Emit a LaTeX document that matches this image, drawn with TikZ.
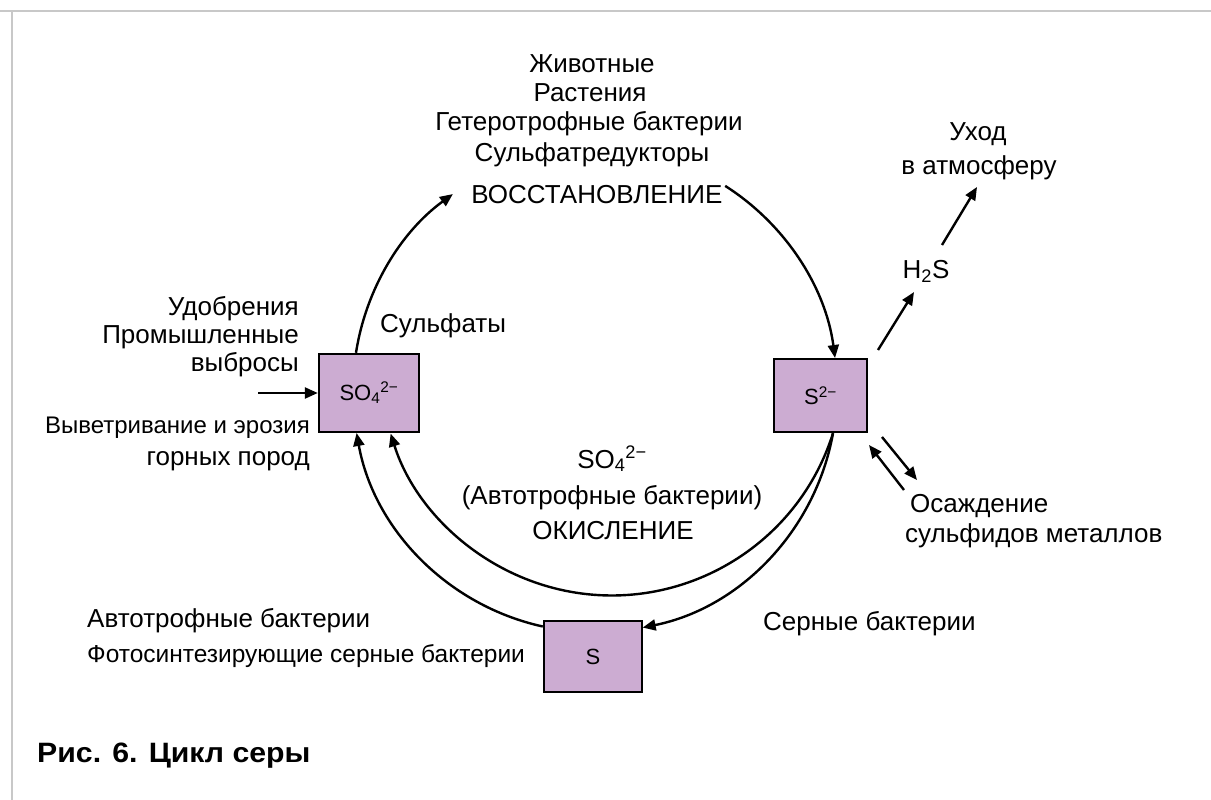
\documentclass[tikz,border=0pt]{standalone}
\usepackage{fontspec}
\setmainfont{Liberation Sans}
\usetikzlibrary{arrows.meta}
\definecolor{boxfill}{RGB}{204,172,210}
\definecolor{framegray}{RGB}{200,200,200}

\begin{document}
\begin{tikzpicture}[x=1pt,y=1pt,
  arr/.style={line width=2.4pt, -{Triangle[length=13pt,width=11pt]}},
  pool/.style={draw=black, line width=2.4pt, fill=boxfill, inner sep=0pt,
    font=\fontsize{22}{26}\selectfont},
  lbl/.style={font=\fontsize{26}{30}\selectfont, inner sep=0pt},
]
\useasboundingbox (0,0) rectangle (1211,-800);

% frame lines
\draw[framegray, line width=1.5pt] (0,-11) -- (1211,-11);
\draw[framegray, line width=1.5pt] (12,-11) -- (12,-800);

% sulfur pools
\node[pool, minimum width=100pt, minimum height=78pt] (lbox) at (369,-393) {SO\textsubscript{4}\textsuperscript{2−}};
\node[pool, minimum width=93pt, minimum height=73pt] (rbox) at (820.5,-395.5) {S\textsuperscript{2−}};
\node[pool, minimum width=98pt, minimum height=71pt] (sbox) at (593,-656.5) {S};

% reduction branch over the top of the cycle
\coordinate (tr) at (725.2,-185.9);
\draw[arr] ([xshift=-13pt]lbox.north) arc[start angle=171.2, end angle=126, radius=242];
\draw[arr] (tr) arc[start angle=57.5, end angle=7.6, radius=242];

% oxidation branches under the cycle
\draw[arr] ([yshift=30pt]sbox.west) arc[start angle=257.6, end angle=190.2, radius=242];
\draw[arr] ([xshift=12.5pt]rbox.south) arc[start angle=-17.5, end angle=-162.4, radius=232];
\draw[arr] ([xshift=12.5pt]rbox.south) arc[start angle=-10.2, end angle=-78.6, radius=242];

% inputs and outputs
\coordinate (fin) at (258,-393);
\draw[arr] (fin) -- (lbox.west);

\coordinate (h0) at (878,-350);
\coordinate (h1) at (914,-292);
\draw[arr] (h0) -- (h1);
\coordinate (a0) at (942,-245);
\coordinate (a1) at (977,-187);
\draw[arr] (a0) -- (a1);

\coordinate (d1) at (882,-437);
\coordinate (d2) at (917,-480);
\coordinate (d3) at (904,-490);
\coordinate (d4) at (869,-445);
\draw[arr] (d1) -- (d2);
\draw[arr] (d3) -- (d4);

% labels: reduction
\node[lbl, anchor=base] (t1) at (592,-73) {Животные};
\node[lbl, anchor=base] (t2) at (590,-102) {Растения};
\node[lbl, anchor=base] (t3) at (589,-131) {Гетеротрофные бактерии};
\node[lbl, anchor=base] (t4) at (592,-161) {Сульфатредукторы};
\node[lbl, anchor=base] (t5) at (597,-203) {ВОССТАНОВЛЕНИЕ};

% labels: sources of sulfate
\node[lbl, anchor=base east] (s1) at (299,-315) {Удобрения};
\node[lbl, anchor=base east] (s2) at (299,-343) {Промышленные};
\node[lbl, anchor=base east] (s3) at (299,-371) {выбросы};
\node[lbl, anchor=base east, font=\fontsize{24}{30}\selectfont] (w1) at (310,-433) {Выветривание и эрозия};
\node[lbl, anchor=base east] (w2) at (310,-465) {горных пород};
\node[lbl, anchor=base west] (sulf) at (380,-332) {Сульфаты};

% labels: atmosphere and sediments
\node[lbl, anchor=base] (h2s) at (926,-278) {H\textsubscript{2}S};
\node[lbl, anchor=base] (u1) at (978,-140) {Уход};
\node[lbl, anchor=base] (u2) at (979,-174) {в атмосферу};
\node[lbl, anchor=base west] (o1) at (910,-512) {Осаждение};
\node[lbl, anchor=base west] (o2) at (905,-542) {сульфидов металлов};

% labels: oxidation
\node[lbl, anchor=base] (m1) at (612,-468) {SO\textsubscript{4}\textsuperscript{2−}};
\node[lbl, anchor=base] (m2) at (612,-504) {(Автотрофные бактерии)};
\node[lbl, anchor=base] (m3) at (613,-539) {ОКИСЛЕНИЕ};
\node[lbl, anchor=base west] (sb) at (763,-630) {Серные бактерии};
\node[lbl, anchor=base west] (b1) at (87,-627) {Автотрофные бактерии};
\node[lbl, anchor=base west, font=\fontsize{24.5}{30}\selectfont] (b2) at (87,-662) {Фотосинтезирующие серные бактерии};

% caption
\node[lbl, anchor=base west, font=\fontsize{28}{32}\selectfont\bfseries\addfontfeature{FakeStretch=1.08}] (cap) at (37,-762) {Рис. 6. Цикл серы};
\end{tikzpicture}
\end{document}
